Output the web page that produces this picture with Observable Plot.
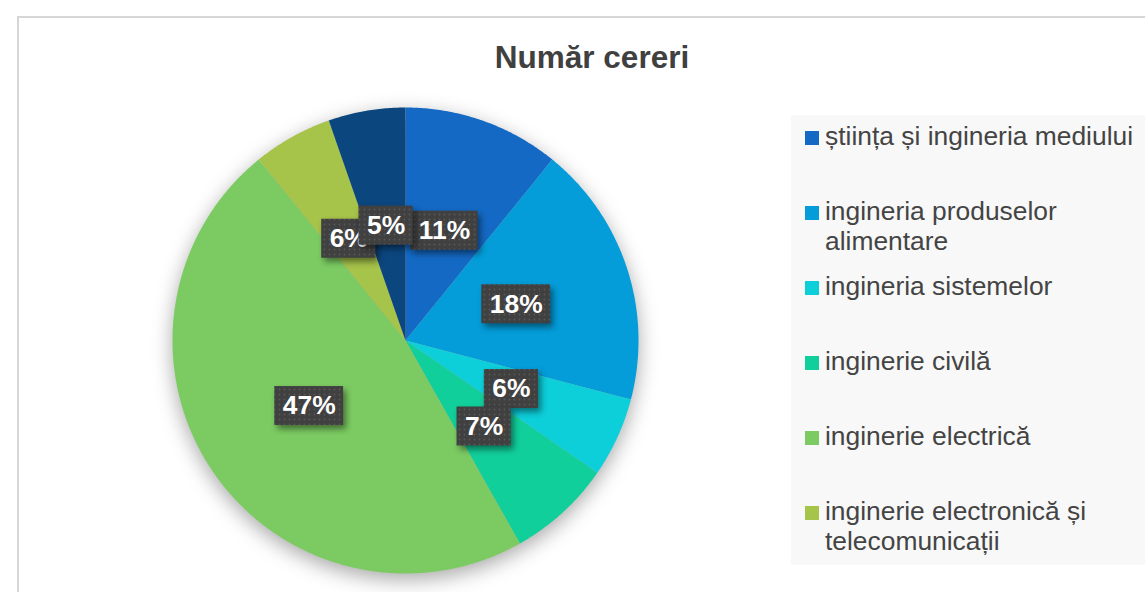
<!DOCTYPE html>
<html>
<head>
<meta charset="utf-8">
<script src="https://cdn.jsdelivr.net/npm/d3@7"></script>
<script src="https://cdn.jsdelivr.net/npm/@observablehq/plot@0.6"></script>
<style>
  html, body { margin: 0; padding: 0; background: #ffffff; width: 1145px; height: 592px; overflow: hidden; position: relative; }
  body { font-family: "Liberation Sans", Arial, sans-serif; }
  #frame { position: absolute; left: 17px; top: 16px; width: 1200px; height: 700px; border-left: 2px solid #d6d6d6; border-top: 2px solid #d6d6d6; box-sizing: border-box; }
  #title { position: absolute; left: 0; top: 42px; width: 1184px; text-align: center; font-weight: bold; font-size: 31.5px; line-height: 31px; color: #404040; }
  #legend { position: absolute; left: 791px; top: 115px; width: 360px; height: 450px; background: #f8f8f8; overflow: hidden; }
  .item { position: absolute; left: 0; width: 360px; }
  .swatch { position: absolute; left: 14px; width: 14px; height: 14px; }
  .ltext { position: absolute; left: 34px; width: 320px; font-size: 26.4px; line-height: 30px; color: #444444; }
  #chart { position: absolute; }
</style>
</head>
<body>
<div id="frame"></div>
<div id="title"></div>
<div id="legend"></div>
<div id="chart"></div>
<script>
// ---- data ----
const title = "Număr cereri";
const categories = [
  "știința și ingineria mediului",
  "ingineria produselor alimentare",
  "ingineria sistemelor",
  "inginerie civilă",
  "inginerie electrică",
  "inginerie electronică și telecomunicații",
  "alte domenii"
];
const values = [10.85, 18.23, 5.52, 7.23, 47.32, 5.51, 5.34];
const colors = ["#1469c4", "#049dd9", "#0dcfda", "#11cf9b", "#7ccb62", "#a6c34a", "#0c467f"];

// ---- layout ----
const R = 233, M = 40, CX = 405, CY = 340;
const size = 2 * R + 2 * M;
const labelFont = "bold 26.4px 'Liberation Sans', Arial, sans-serif";
const legendHeight = 450, legendStep = 75;

document.getElementById("title").textContent = title;

// legend (HTML); entries that do not fit in the legend box are not shown, as in the original
const legend = d3.select("#legend");
categories.forEach((c, i) => {
  const mc = 23 + legendStep * i; // marker centre relative to legend box
  if (mc + 20 > legendHeight) return;
  const it = legend.append("div").attr("class", "item").style("top", "0px");
  it.append("div").attr("class", "swatch").style("top", (mc - 7) + "px").style("background", colors[i]);
  it.append("div").attr("class", "ltext").style("top", (mc + 7.5 - 24.15) + "px").text(c);
});

// pie geometry from data
const total = d3.sum(values);
const arcs = d3.pie().sort(null).startAngle(0).endAngle(2 * Math.PI)(values);
const slicePts = [];
arcs.forEach((a, i) => {
  const cat = categories[i];
  slicePts.push({cat, x: 0, y: 0});
  const n = Math.max(4, Math.ceil((a.endAngle - a.startAngle) / (Math.PI / 360)));
  for (let k = 0; k <= n; k++) {
    const t = a.startAngle + (a.endAngle - a.startAngle) * k / n;
    slicePts.push({cat, x: Math.sin(t), y: Math.cos(t)});
  }
  slicePts.push({cat, x: 0, y: 0});
});

const ctx = document.createElement("canvas").getContext("2d");
ctx.font = labelFont;
const labels = arcs.map((a, i) => {
  const mid = (a.startAngle + a.endAngle) / 2;
  const txt = Math.round(values[i] / total * 100) + "%";
  const w = ctx.measureText(txt).width + 16;
  const h = 39;
  const x = 0.5 * Math.sin(mid), y = 0.5 * Math.cos(mid);
  return {txt, x, y, x1: x - w / 2 / R, x2: x + w / 2 / R, y1: y - h / 2 / R, y2: y + h / 2 / R};
});

const labelMarks = labels.flatMap(d => [
  Plot.rect([d], {x1: "x1", x2: "x2", y1: "y1", y2: "y2", fill: "url(#lblpat)"}),
  Plot.text([d], {x: "x", y: "y", text: "txt", fill: "white", fontSize: 26.4, fontWeight: "bold", fontFamily: "'Liberation Sans', Arial, sans-serif"})
]);

const plot = Plot.plot({
  width: size, height: size, margin: M,
  x: {domain: [-1, 1], axis: null},
  y: {domain: [-1, 1], axis: null},
  color: {domain: categories, range: colors},
  style: {background: "transparent", overflow: "visible"},
  marks: [
    Plot.line(slicePts, {x: "x", y: "y", z: "cat", fill: "cat", stroke: "none"}),
    ...labelMarks
  ]
});

// pattern for label boxes
const svg = d3.select(plot);
const defs = svg.insert("defs", ":first-child");
const pat = defs.append("pattern").attr("id", "lblpat").attr("patternUnits", "userSpaceOnUse").attr("width", 5).attr("height", 5);
pat.append("rect").attr("width", 5).attr("height", 5).attr("fill", "#404040");
pat.append("circle").attr("cx", 2.5).attr("cy", 2.5).attr("r", 0.9).attr("fill", "#575757");

svg.selectAll('g[aria-label="line"]').style("filter", "drop-shadow(0px 6px 10px rgba(0,0,0,0.34))");
svg.selectAll('g[aria-label="rect"]').style("filter", "drop-shadow(3px 4px 3px rgba(0,0,0,0.45))");

const chart = document.getElementById("chart");
chart.style.left = (CX - R - M) + "px";
chart.style.top = (CY - R - M) + "px";
chart.appendChild(plot);
</script>
</body>
</html>
